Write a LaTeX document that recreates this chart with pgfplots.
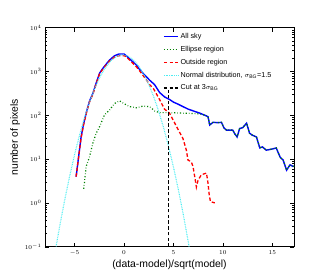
\documentclass[border=0pt]{standalone}
\usepackage{fontspec}
\setmainfont{Liberation Sans}
\usepackage{pgfplots}
\pgfplotsset{compat=1.18}
\definecolor{mcyan}{rgb}{0.3,0.93,0.95}
\definecolor{mgreen}{rgb}{0,0.5,0}
\begin{document}
\begin{tikzpicture}[x=1pt,y=1pt]
\path[use as bounding box] (-45,-33.3) rectangle (275,246.7);
\begin{axis}[
  scale only axis, width=249pt, height=219pt,
  at={(0,0)}, anchor=south west,
  ymode=log, xmin=-8, xmax=17.2, ymin=0.1, ymax=10000,
  xtick={-5,0,5,10,15},
  ytick={0.1,1,10,100,1000,10000},
  yticklabels={$10^{-1}$,$10^{0}$,$10^{1}$,$10^{2}$,$10^{3}$,$10^{4}$},
  tick align=inside,
  major tick length=4pt, minor tick length=2pt,
  tick style={black, line width=0.4pt},
  axis line style={line width=0.5pt},
  ticklabel style={font=\fontsize{6}{7}\selectfont},
  xlabel={(data-model)/sqrt(model)},
  ylabel={number of pixels},
  label style={font=\fontsize{10.4}{12}\selectfont},
  xlabel style={at={(axis description cs:0.5,-0.084)}, anchor=center},
  ylabel style={at={(axis description cs:-0.12,0.5)}, anchor=center},
  legend style={at={(axis description cs:0.47,0.99)}, anchor=north west, draw=none, fill=none,
    font=\fontsize{7.2}{8}\selectfont, row sep=2.2pt, inner sep=1pt},
  legend cell align=left,
  legend image code/.code={\draw[#1] (0pt,0pt) -- (14pt,0pt);},
]
\addplot[blue, line width=1.4pt] coordinates {
(-4.85,3.98) (-4.6,11.2) (-4.35,31.6) (-4.1,63.1) (-3.8,120) (-3.5,209) (-3.16,316)
(-2.8,562) (-2.48,912) (-2.15,1175) (-1.8,1479) (-1.47,1820) (-0.96,2291) (-0.5,2512)
(0.0,2512) (0.22,2291) (0.7,1820) (1.24,1413) (1.6,1096) (2.08,832) (2.6,631) (3.09,501)
(3.6,331) (4.1,263) (4.61,229) (5.0,200) (5.5,178) (5.96,158) (6.5,138) (7.0,126)
(7.66,112) (8.2,100) (8.5,93) (8.67,60) (9.0,69) (9.5,68) (9.86,69) (10.1,52) (10.36,46)
(11.0,46) (11.2,38) (11.44,32) (11.7,50) (12.0,52) (12.4,66) (12.7,39) (13.0,35) (13.4,32)
(13.74,18) (14.0,19) (14.4,16) (15.0,17) (15.4,18) (15.8,11) (16.1,9.5) (16.45,5.6)
(16.8,7.4) (17.1,6.8) (17.3,7)
};
\addlegendentry{All sky}
\addplot[mgreen, line width=1.2pt, dash pattern=on 1.2pt off 2pt on 0.6pt off 2pt] coordinates {
(-4.08,2.1) (-3.83,6.8) (-3.5,11.2) (-3.16,22.9) (-2.82,38.9) (-2.48,55) (-1.98,102)
(-1.47,132) (-0.96,186) (-0.46,214) (0.05,182) (0.56,158) (1.24,148) (1.9,162) (2.59,158)
(3.09,126) (3.6,115) (4.6,115) (5.96,112) (7.0,110) (7.66,107) (8.2,100)
(8.5,93) (8.67,60) (9.0,69) (9.5,68) (9.86,69) (10.1,52) (10.36,46)
(11.0,46) (11.2,38) (11.44,32) (11.7,50) (12.0,52) (12.4,66) (12.7,39) (13.0,35) (13.4,32)
(13.74,18) (14.0,19) (14.4,16) (15.0,17) (15.4,18) (15.8,11) (16.1,9.5) (16.45,5.6)
(16.8,7.4) (17.1,6.8) (17.3,7)
};
\addlegendentry{Ellipse region}
\addplot[red, line width=1.3pt, dash pattern=on 3.5pt off 2.2pt] coordinates {
(-4.85,3.98) (-4.6,11) (-4.35,30) (-4.1,60) (-3.8,115) (-3.5,200) (-3.16,300) (-2.8,540)
(-2.48,880) (-2.15,1130) (-1.8,1420) (-1.47,1740) (-0.96,2150) (-0.5,2300) (0.0,2300)
(0.22,2180) (0.7,1700) (1.24,1290) (1.7,950) (2.25,646) (2.6,500) (3.0,398) (3.5,251)
(4.1,138) (4.6,112) (5.3,56) (5.96,29.5) (6.3,16.2) (6.47,9.5) (6.8,8.7) (6.98,6.8)
(7.15,4.0) (7.32,2.3) (7.49,3.3) (7.83,4.4) (8.34,4.8) (8.5,2.8) (8.6,1.66) (8.74,1.07) (9.18,1.0)
};
\addlegendentry{Outside region}
\addplot[mcyan, line width=1.1pt, dash pattern=on 0.8pt off 0.9pt] coordinates {
(-7,0.0711) (-6.5,0.308) (-6,1.19) (-5.5,4.15) (-5,12.9) (-4.5,35.8) (-4,89.1) (-3.5,198)
(-3,395) (-2.5,703) (-2,1122) (-1.5,1600) (-1,2043) (-0.5,2335) (-0.15,2400) (0,2388)
(0.5,2183) (1,1788) (1.5,1310) (2,859) (2.5,504) (3,265) (3.5,124) (4,52.2) (4.5,19.6)
(5,6.61) (5.5,1.99) (6,0.537) (6.5,0.129) (7,0.028)
};
\addlegendentry{Normal distribution, $\sigma_{\mathrm{BG}}$=1.5}
\addplot[black, line width=1.3pt, dash pattern=on 3.5pt off 2.2pt] coordinates {(4.5,0.1) (4.5,380)};
\addlegendentry{Cut at 3$\sigma_{\mathrm{BG}}$}
\end{axis}
\end{tikzpicture}
\end{document}
